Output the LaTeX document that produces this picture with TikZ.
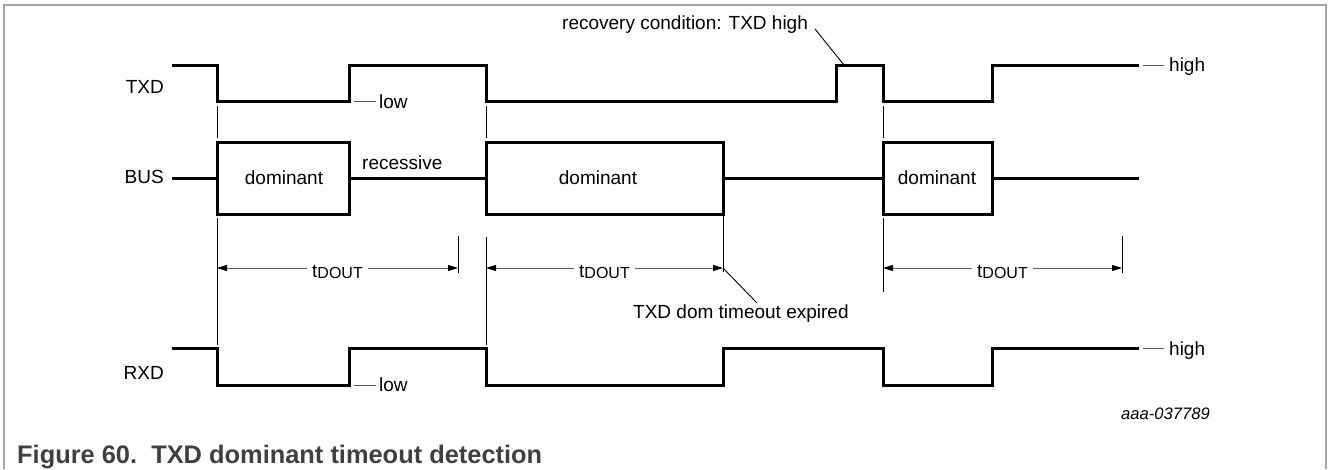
\documentclass[tikz,border=0pt]{standalone}
\usepackage{fontspec}
\setmainfont{Liberation Sans}
\usetikzlibrary{arrows.meta}
\newcommand\myfs[1]{\fontsize{#1}{#1}\selectfont}
\newcommand\tdout{t\raisebox{-1.5pt}{\myfs{16}DOUT}}
\definecolor{framegray}{RGB}{165,165,165}
\definecolor{dimgray}{RGB}{95,95,95}
\definecolor{tickgray}{RGB}{90,90,90}
\definecolor{capgray}{RGB}{64,64,64}
\begin{document}
\begin{tikzpicture}[x=1pt,y=-1pt,
  sig/.style={line width=3pt, line join=miter},
  guide/.style={line width=1pt, draw=black},
  tickline/.style={line width=1pt, draw=tickgray},
  leader/.style={line width=0.9pt, draw=black},
  dimline/.style={line width=1pt, draw=dimgray,
    {Triangle[length=10pt,width=6pt,color=black]}-{Triangle[length=10pt,width=6pt,color=black]}},
  lbl/.style={inner sep=0pt, font=\myfs{19}},
  dimlbl/.style={inner sep=5pt, fill=white, font=\myfs{19}, anchor=base}]
\useasboundingbox (0,0) rectangle (1328,469);
% frame
\draw[framegray, line width=1.5pt] (4,469) -- (4,5) -- (1326,5) -- (1326,469);

% signal names
\node[lbl, anchor=base east] (ltxd) at (164,93.3) {TXD};
\node[lbl, anchor=base east] (lbus) at (164,183.3) {BUS};
\node[lbl, anchor=base east] (lrxd) at (164,379.3) {RXD};

% TXD
\draw[sig] (172,65) -- (217,65) -- (217,101) -- (349,101) -- (349,65) -- (486,65)
  -- (486,101) -- (836,101) -- (836,65) -- (883,65) -- (883,101) -- (992,101)
  -- (992,65) -- (1139,65);
% BUS
\draw[sig] (172,178) -- (217,178);
\draw[sig] (217,142) rectangle (349,214);
\draw[sig] (349,178) -- (486,178);
\draw[sig] (486,142) rectangle (723,214);
\draw[sig] (723,178) -- (883,178);
\draw[sig] (883,142) rectangle (992,214);
\draw[sig] (992,178) -- (1139,178);
% RXD
\draw[sig] (172,348) -- (217,348) -- (217,385) -- (349,385) -- (349,348) -- (486,348)
  -- (486,385) -- (723,385) -- (723,348) -- (883,348) -- (883,385) -- (992,385)
  -- (992,348) -- (1139,348);

% bus texts
\node[lbl, anchor=base] (dom1) at (284,184.3) {dominant};
\node[lbl, anchor=base] (dom2) at (598,184.3) {dominant};
\node[lbl, anchor=base] (dom3) at (937,184.3) {dominant};
\node[lbl, anchor=base west] (rec) at (362,169.3) {recessive};

% level ticks
\draw[tickline] (1143,65) -- (1164,65);
\node[lbl, anchor=base west] (hightx) at (1169,71.5) {high};
\draw[tickline] (354,101) -- (376,101);
\node[lbl, anchor=base west] (lowtx) at (379,108.3) {low};
\draw[tickline] (1143,348) -- (1164,348);
\node[lbl, anchor=base west] (highrx) at (1169,355) {high};
\draw[tickline] (354,385) -- (376,385);
\node[lbl, anchor=base west] (lowrx) at (379,391.7) {low};

% guide lines
\draw[guide] (217,106) -- (217,138);
\draw[guide] (217,218) -- (217,345);
\draw[guide] (486,106) -- (486,138);
\draw[guide] (486,237) -- (486,345);
\draw[guide] (723,216) -- (723,272);
\draw[guide] (883,106) -- (883,138);
\draw[guide] (883,218) -- (883,292);
\draw[guide] (458,236) -- (458,273);
\draw[guide] (1122,236) -- (1122,273);

% dimensions
\coordinate (d1a) at (217,268); \coordinate (d1b) at (458,268);
\coordinate (d2a) at (486,268); \coordinate (d2b) at (723,268);
\coordinate (d3a) at (883,268); \coordinate (d3b) at (1122,268);
\draw[dimline] (d1a) -- (d1b);
\draw[dimline] (d2a) -- (d2b);
\draw[dimline] (d3a) -- (d3b);
\node[dimlbl] (t1) at (337.5,277.3) {\tdout};
\node[dimlbl] (t2) at (604.5,277.3) {\tdout};
\node[dimlbl] (t3) at (1002.5,277.3) {\tdout};

% annotations
\node[lbl, anchor=base west] (recov) at (562,29.3) {recovery condition: TXD high};
\coordinate (recA) at (815,29);
\coordinate (recB) at (844,65);
\draw[leader] (recA) -- (recB);
\node[lbl, anchor=base west] (expired) at (633,318.3) {TXD dom timeout expired};
\coordinate (expA) at (757,303);
\draw[leader] (d2b) -- (expA);

\node[inner sep=0pt, anchor=base west, font=\myfs{16.6}\itshape] (code) at (1121,419.3) {aaa-037789};
\node[inner sep=0pt, anchor=base west, font=\myfs{25.4}\bfseries, text=capgray] (cap) at (17,463.3) {Figure 60.\ \ TXD dominant timeout detection};
\end{tikzpicture}
\end{document}
